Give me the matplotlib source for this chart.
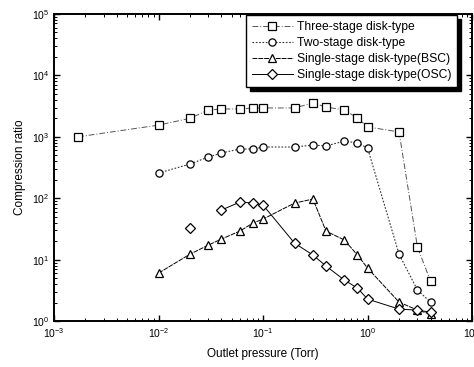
import matplotlib

matplotlib.use("Agg")
import matplotlib.pyplot as plt
import numpy as np
from matplotlib.ticker import LogLocator, NullFormatter

plt.rcParams["font.family"] = ["Liberation Sans", "DejaVu Sans"]

# Outlet pressure (Torr)
p_three = [0.0017, 0.01, 0.02, 0.03, 0.04, 0.06, 0.08, 0.1, 0.2, 0.3, 0.4, 0.6, 0.8, 1, 2, 3, 4]
cr_three = [1000, 1550, 2000, 2730, 2840, 2840, 2950, 2950, 2950, 3550, 3060, 2730, 2020, 1450, 1200, 16, 4.5]

p_two = [0.01, 0.02, 0.03, 0.04, 0.06, 0.08, 0.1, 0.2, 0.3, 0.4, 0.6, 0.8, 1, 2, 3, 4]
cr_two = [257, 361, 469, 545, 633, 633, 682, 682, 735, 708, 855, 793, 657, 12.3, 3.2, 2.04]

p_bsc = [0.01, 0.02, 0.03, 0.04, 0.06, 0.08, 0.1, 0.2, 0.3, 0.4, 0.6, 0.8, 1, 2, 3, 4]
cr_bsc = [6.05, 12.3, 17.3, 21.7, 29.2, 39.5, 45.8, 83.5, 97, 29.2, 20.9, 11.9, 7.3, 2.04, 1.51, 1.3]

# the 0.02 Torr point stands alone (no line to the next point)
p_osc = [0.02, 0.03, 0.04, 0.06, 0.08, 0.1, 0.2, 0.3, 0.4, 0.6, 0.8, 1, 2, 3, 4]
cr_osc = [32.7, np.nan, 64.3, 86.7, 83.5, 77.5, 18.6, 11.9, 7.9, 4.65, 3.45, 2.28, 1.57, 1.51, 1.4]

labels = [
    "Three-stage disk-type",
    "Two-stage disk-type",
    "Single-stage disk-type(BSC)",
    "Single-stage disk-type(OSC)",
]

fig = plt.figure(figsize=(4.74, 3.67), dpi=100)
ax = fig.add_axes([0.114, 0.125, 0.882, 0.837])

mk = dict(markerfacecolor="white", markeredgecolor="black", markersize=5.2, markeredgewidth=0.9)
ax.plot(p_three, cr_three, color="#555555", linestyle=(0, (6, 2, 1, 2)), linewidth=0.7,
        marker="s", label=labels[0], **mk)
ax.plot(p_two, cr_two, color="#333333", linestyle=(0, (1.5, 1.5)), linewidth=0.8,
        marker="o", label=labels[1], **mk)
ax.plot(p_bsc, cr_bsc, color="black", linestyle=(0, (5, 1)), linewidth=0.7,
        marker="^", label=labels[2], **mk)
ax.plot(p_osc, cr_osc, color="black", linestyle="-", linewidth=0.7,
        marker="D", label=labels[3], **dict(mk, markersize=4.8))

ax.set_xscale("log")
ax.set_yscale("log")
ax.set_xlim(1e-3, 1e1)
ax.set_ylim(1e0, 1e5)

ax.xaxis.set_minor_locator(LogLocator(base=10, subs=np.arange(2, 10)))
ax.yaxis.set_minor_locator(LogLocator(base=10, subs=np.arange(2, 10)))
ax.xaxis.set_minor_formatter(NullFormatter())
ax.yaxis.set_minor_formatter(NullFormatter())
ax.tick_params(which="both", direction="in", top=True, right=True, labelsize=7.5)
ax.tick_params(which="major", length=4, width=1)
ax.tick_params(which="minor", length=2, width=0.7)
for s in ax.spines.values():
    s.set_linewidth(1.4)

ax.set_xlabel("Outlet pressure (Torr)", fontsize=8.5, labelpad=6)
ax.set_ylabel("Compression ratio", fontsize=8.5, labelpad=4)

leg = ax.legend(loc="upper right", bbox_to_anchor=(0.964, 0.997), fontsize=8.7,
                frameon=True, fancybox=False, framealpha=1, edgecolor="black",
                shadow={"color": "black", "alpha": 1, "ox": 3, "oy": -3},
                handlelength=3.4, handletextpad=0.3, labelspacing=0.33,
                borderpad=0.5, borderaxespad=0.0)
leg.get_frame().set_linewidth(1.0)

fig.savefig("out.png", dpi=100)
